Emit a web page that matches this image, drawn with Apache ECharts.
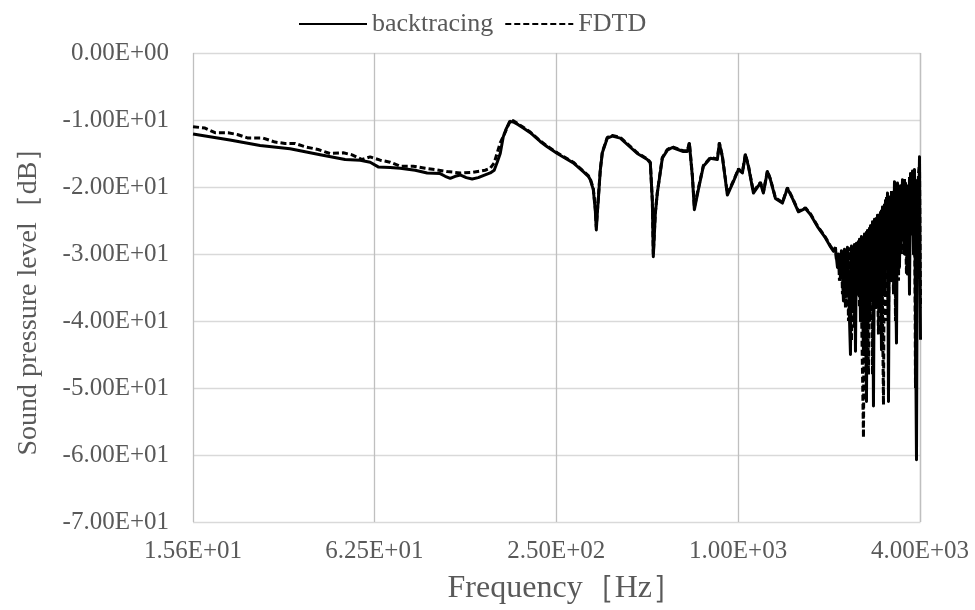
<!DOCTYPE html>
<html><head><meta charset="utf-8">
<script src="https://cdn.jsdelivr.net/npm/echarts@6/dist/echarts.min.js"></script>
<style>html,body{margin:0;padding:0;background:#fff}#c{width:975px;height:610px}</style>
</head><body><div id="c"></div>
<script>
const xTickLabels = ['1.56E+01','6.25E+01','2.50E+02','1.00E+03','4.00E+03'];
const yTickLabels = ['0.00E+00','-1.00E+01','-2.00E+01','-3.00E+01','-4.00E+01','-5.00E+01','-6.00E+01','-7.00E+01'];

const btFreq = [15.63,20.7,26.05,32.75,41.2,49.8,55.9,60.3,64.1,70.2,75.8,85.0,93.1,102.8,106.8,111.0,115.3,119.7,125.4,131.2,137.4,142.7,150.6,155.2,158.8,162.5,166.3,170.1,175.4,179.5,186.4,193.7,204.3,220.4,232.5,251.0,266.8,283.6,306.0,318.0,322.8,330.3,335.4,338.0,340.5,343.2,348.4,353.8,367.5,381.8,405.8,461.9,498.5,510.1,518.0,521.9,530.0,538.1,559.0,580.8,603.4,656.2,676.5,686.9,702.8,713.6,735.7,764.3,806.2,850.4,863.5,883.5,917.8,960.8,998.2,1029.1,1052.9,1077.3,1119.2,1180.6,1207.9,1245.3,1274.2,1323.7,1396.3,1450.6,1507.0,1577.6,1664.1,1728.8,1823.6,1938.3,2013.7,2060.0,
  2092.0,2124.2,2140.4,2173.3,2189.9,2223.6,2240.6,2275.1,2292.5,2345.5,2363.5,2399.8,2418.2,2436.7,2455.3,2493.1,2512.1,2531.4,2550.7,2589.9,2609.8,2649.9,2670.1,2711.2,2731.9,2752.8,2773.9,2795.1,2816.5,2859.8,2881.7,2925.9,2948.3,2970.9,2993.6,3039.6,3062.9,3086.4,3110.0,3133.8,3157.8,3206.3,3230.8,3255.6,3280.5,3330.9,3356.4,3408.0,3434.0,3460.3,3486.8,3540.4,3567.5,3622.3,3650.1,3678.0,3706.2,3734.5,3763.1,3791.9,3820.9,3879.6,3909.3,3939.3,3969.4,4000];
const btLevel = [-12.1,-13.0,-13.8,-14.3,-15.2,-15.9,-16.0,-16.3,-17.0,-17.1,-17.2,-17.5,-17.9,-18.0,-18.4,-18.7,-18.4,-18.2,-18.6,-18.8,-18.6,-18.3,-17.9,-17.5,-16.3,-15.0,-12.5,-11.3,-10.2,-10.3,-10.7,-11.2,-11.9,-13.2,-14.0,-15.0,-15.7,-16.4,-17.7,-18.4,-18.9,-20.4,-23.5,-26.4,-24.0,-21.9,-17.5,-14.9,-12.7,-12.4,-12.7,-15.0,-15.9,-16.4,-22.0,-30.4,-24.0,-20.9,-15.7,-14.5,-14.1,-14.7,-14.7,-13.5,-18.4,-23.4,-20.4,-16.9,-15.7,-15.9,-13.5,-15.5,-21.2,-19.2,-17.4,-17.9,-15.2,-16.9,-20.9,-19.4,-20.9,-17.7,-18.9,-21.7,-22.4,-20.2,-21.7,-23.7,-23.2,-24.1,-25.9,-27.6,-28.9,-29.6,
  -29.2,-32.0,-30.0,-33.5,-29.5,-37.0,-29.3,-36.0,-29.0,-45.0,-28.8,-38.0,-28.6,-44.5,-28.4,-36.0,-27.8,-40.0,-27.4,-45.0,-27.0,-52.0,-26.5,-40.0,-25.8,-36.0,-25.2,-52.7,-24.8,-38.0,-24.2,-34.0,-23.8,-44.3,-23.0,-36.0,-22.0,-30.0,-20.9,-52.0,-21.5,-34.0,-21.0,-30.0,-19.2,-43.3,-19.4,-32.0,-19.8,-28.0,-18.9,-30.0,-19.4,-33.0,-19.9,-36.0,-18.0,-27.0,-17.6,-30.0,-17.4,-60.7,-19.0,-26.0,-15.5,-42.8];

const fdtdFreq = [15.63,17.12,18.48,20.40,22.02,23.77,26.66,29.21,31.51,34.02,36.72,40.54,44.43,49.1,52.54,56.70,60.3,65.1,70.2,75.8,83.7,91.68,98.96,108.45,119.7,132.2,144.9,150.6,155.2,162.5,168.8,175.4,179.5,186.4,193.7,204.3,220.4,232.5,251.0,266.8,283.6,306.0,318.0,322.8,330.3,335.4,338.0,340.5,343.2,348.4,353.8,367.5,381.8,405.8,461.9,498.5,510.1,518.0,521.9,530.0,538.1,559.0,580.8,603.4,656.2,676.5,686.9,702.8,713.6,735.7,764.3,806.2,850.4,863.5,883.5,917.8,960.8,998.2,1029.1,1052.9,1077.3,1119.2,1180.6,1207.9,1245.3,1274.2,1323.7,1396.3,1450.6,1507.0,1577.6,1664.1,1728.8,1823.6,1938.3,2013.7,2060.0,
  2092.0,2108.0,2140.4,2156.8,2189.9,2206.7,2240.6,2257.8,2292.5,2310.0,2327.7,2363.5,2381.6,2418.2,2436.7,2474.1,2493.1,2512.1,2531.4,2550.7,2589.9,2609.8,2629.7,2649.9,2690.6,2711.2,2731.9,2752.8,2773.9,2795.1,2838.1,2859.8,2903.7,2925.9,2948.3,2970.9,3016.6,3039.6,3062.9,3086.4,3133.8,3157.8,3181.9,3206.3,3255.6,3280.5,3305.6,3330.9,3382.1,3408.0,3460.3,3486.8,3513.5,3540.4,3594.8,3622.3,3650.1,3678.0,3734.5,3763.1,3791.9,3820.9,3850.2,3879.6,3909.3,3939.3,3969.4,4000];
const fdtdLevel = [-11.0,-11.2,-11.9,-11.9,-12.2,-12.7,-12.7,-13.3,-13.5,-13.5,-14.0,-14.4,-15.0,-14.9,-15.2,-15.9,-15.5,-16.0,-16.3,-16.9,-16.9,-17.2,-17.4,-17.7,-17.9,-17.8,-17.5,-17.2,-16.4,-13.4,-11.8,-10.0,-10.1,-10.6,-11.1,-11.8,-13.1,-13.9,-14.9,-15.6,-16.3,-17.6,-18.3,-18.8,-20.2,-23.2,-26.0,-23.8,-21.6,-17.4,-14.8,-12.6,-12.3,-12.6,-14.9,-15.8,-16.3,-22.0,-30.0,-23.8,-20.8,-15.6,-14.4,-14.0,-14.6,-14.6,-13.4,-18.2,-23.0,-20.2,-16.8,-15.6,-15.8,-13.4,-15.4,-21.0,-19.1,-17.3,-17.8,-15.1,-16.8,-20.7,-19.3,-20.7,-17.6,-18.8,-21.6,-22.3,-20.1,-21.6,-23.6,-23.1,-24.0,-25.8,-27.5,-28.8,-29.5,
  -29.0,-31.0,-30.2,-34.0,-29.6,-36.0,-29.4,-38.0,-29.2,-40.0,-29.0,-43.0,-28.8,-41.0,-28.5,-36.0,-28.0,-38.0,-27.6,-27.4,-57.4,-27.0,-40.0,-26.6,-48.0,-26.0,-37.0,-25.6,-48.0,-25.0,-36.0,-24.5,-42.0,-24.0,-38.0,-23.4,-52.5,-22.5,-40.0,-21.5,-40.0,-21.4,-33.0,-20.6,-36.0,-19.6,-40.0,-19.6,-34.0,-19.8,-30.0,-19.1,-28.0,-18.8,-33.0,-19.6,-30.0,-18.5,-27.0,-17.8,-25.0,-17.6,-50.0,-20.0,-24.0,-18.0,-16.5,-38.0];

const font = 'Liberation Serif';
const zip = (a, b) => a.map((v, i) => [v, b[i]]);
const chart = echarts.init(document.getElementById('c'));
chart.setOption({
  animation: false,
  backgroundColor: '#fff',
  textStyle: { fontFamily: font, color: '#595959' },
  legend: {
    top: 6, left: 293, itemWidth: 68, itemHeight: 14, itemGap: 11,
    itemStyle: { opacity: 0 },
    textStyle: { fontFamily: font, fontSize: 26, color: '#595959' },
    data: ['backtracing', 'FDTD']
  },
  grid: { left: 193, right: 54.5, top: 53, bottom: 88, containLabel: false },
  xAxis: {
    type: 'log', logBase: 4, min: 15.625, max: 4000, interval: 1,
    name: 'Frequency［Hz］', nameLocation: 'middle', nameGap: 51,
    nameTextStyle: { fontFamily: font, fontSize: 32, color: '#595959', padding: [0, 0, 0, 18] },
    axisLine: { show: false }, axisTick: { show: false },
    axisLabel: { margin: 17, fontSize: 25, fontFamily: font, color: '#595959',
      formatter: v => xTickLabels[Math.round(Math.log(v / 15.625) / Math.log(4))] },
    splitLine: { show: true, lineStyle: { color: '#bfbfbf', width: 1.3 } },
    minorSplitLine: { show: false }
  },
  yAxis: {
    type: 'value', min: -70, max: 0, interval: 10,
    name: 'Sound pressure level［dB］', nameLocation: 'middle', nameGap: 150, nameRotate: 90,
    nameTextStyle: { fontFamily: font, fontSize: 28, color: '#595959', padding: [0, 14, 0, 0] },
    axisLine: { show: false }, axisTick: { show: false },
    axisLabel: { margin: 24, fontSize: 25, fontFamily: font, color: '#595959',
      formatter: v => yTickLabels[Math.round(-v / 10)] },
    splitLine: { show: true, lineStyle: { color: '#d9d9d9', width: 1.3 } }
  },
  series: [
    { name: 'backtracing', type: 'line', symbol: 'none', data: zip(btFreq, btLevel),
      lineStyle: { color: '#000', width: 3, join: 'round' }, itemStyle: { color: '#000' }, z: 3 },
    { name: 'FDTD', type: 'line', symbol: 'none', data: zip(fdtdFreq, fdtdLevel),
      lineStyle: { color: '#000', width: 3, type: [6, 3] }, itemStyle: { color: '#000' }, z: 2 }
  ]
});
</script></body></html>
